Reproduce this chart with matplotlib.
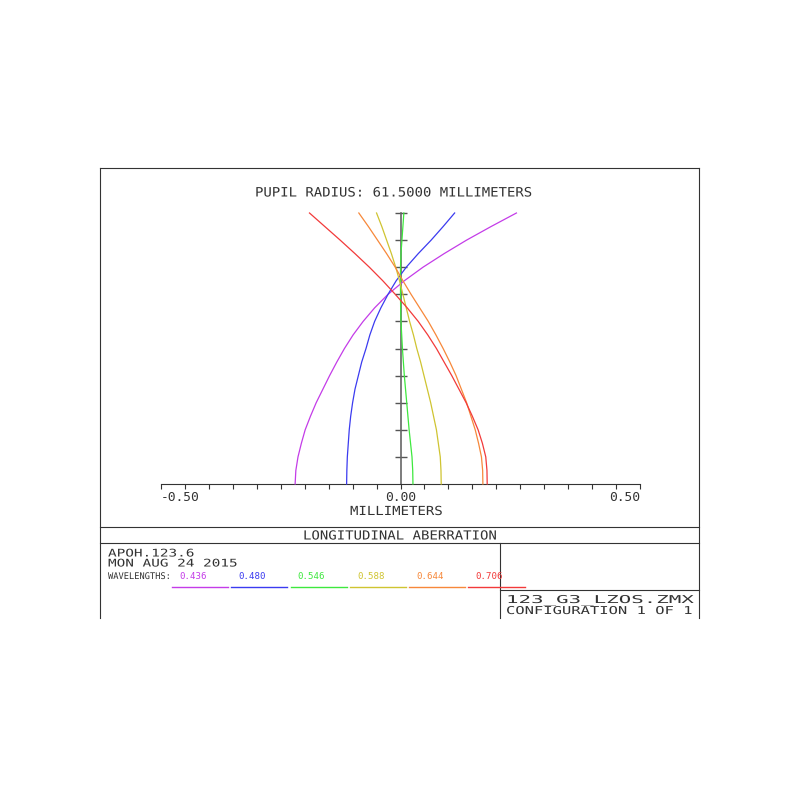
import matplotlib

matplotlib.use("Agg")
import matplotlib.patheffects as pe
import matplotlib.pyplot as plt
import numpy as np
from matplotlib.lines import Line2D
from matplotlib.transforms import Affine2D

# relative pupil height (0 = axis, 1 = edge of pupil)
PUPIL = [0.0, 0.05, 0.1, 0.15, 0.2, 0.25, 0.3, 0.35, 0.4, 0.45, 0.5,
         0.55, 0.6, 0.65, 0.7, 0.75, 0.8, 0.85, 0.9, 0.95, 1.0]

# longitudinal aberration in mm
AB_436 = [-0.220, -0.2185, -0.214, -0.207, -0.199, -0.188, -0.176, -0.162, -0.148, -0.133, -0.117,
          -0.099, -0.078, -0.054, -0.026, 0.008, 0.047, 0.091, 0.138, 0.189, 0.242]
AB_480 = [-0.1125, -0.112, -0.111, -0.109, -0.107, -0.104, -0.100, -0.095, -0.088, -0.081, -0.072,
          -0.064, -0.054, -0.041, -0.026, -0.009, 0.012, 0.037, 0.064, 0.089, 0.113]
AB_546 = [0.026, 0.0255, 0.024, 0.021, 0.018, 0.0155, 0.013, 0.0105, 0.008, 0.006, 0.004,
          0.0025, 0.001, 0.0003, 0.000, 0.000, 0.000, 0.001, 0.003, 0.005, 0.007]
AB_588 = [0.085, 0.0845, 0.083, 0.079, 0.075, 0.069, 0.063, 0.056, 0.049, 0.042, 0.034,
          0.027, 0.019, 0.012, 0.005, -0.002, -0.010, -0.019, -0.029, -0.039, -0.050]
AB_644 = [0.172, 0.1715, 0.169, 0.163, 0.156, 0.147, 0.138, 0.127, 0.116, 0.103, 0.089,
          0.074, 0.058, 0.040, 0.022, 0.005, -0.011, -0.029, -0.048, -0.067, -0.087]
AB_706 = [0.181, 0.1805, 0.178, 0.171, 0.162, 0.150, 0.137, 0.122, 0.107, 0.091, 0.075,
          0.057, 0.037, 0.014, -0.011, -0.037, -0.065, -0.095, -0.126, -0.158, -0.190]

WAVELENGTHS = ["0.436", "0.480", "0.546", "0.588", "0.644", "0.706"]
SERIES = [AB_436, AB_480, AB_546, AB_588, AB_644, AB_706]
COLORS = ["#c43ce8", "#3b3bf0", "#3ee83e", "#cfc431", "#f7883a", "#f23a3a"]

X_TICKS = np.linspace(-0.5, 0.5, 21)
X_LABELS = {-0.5: "-0.50", 0.0: "0.00", 0.5: "0.50"}
Y_TICKS = np.linspace(0.1, 1.0, 10)

FONT = "DejaVu Sans Mono"
INK = "#333333"
W = H = 800


class Stretch(pe.AbstractPathEffect):
    """Widen text horizontally, like the plotter font zemax uses."""

    def __init__(self, sx):
        super().__init__()
        self.sx = sx

    def draw_path(self, renderer, gc, tpath, affine, rgbFace=None):
        renderer.draw_path(gc, tpath, Affine2D().scale(self.sx, 1) + affine, rgbFace)


def fx(x):
    return x / W


def fy(y):
    return 1 - y / H


def hline(fig, x0, x1, y, color=INK, lw=0.8):
    fig.add_artist(Line2D([fx(x0), fx(x1)], [fy(y), fy(y)], transform=fig.transFigure,
                          color=color, lw=lw))


def vline(fig, x, y0, y1, color=INK, lw=0.8):
    fig.add_artist(Line2D([fx(x), fx(x)], [fy(y0), fy(y1)], transform=fig.transFigure,
                          color=color, lw=lw))


def text(fig, x, y, s, size, color=INK, sx=None):
    # left aligned on the baseline, so the stretch grows to the right
    t = fig.text(fx(x), fy(y), s, fontsize=size, family=FONT, color=color,
                 ha="left", va="baseline")
    if sx:
        t.set_path_effects([Stretch(sx)])
    return t


def main() -> None:
    fig = plt.figure(figsize=(8, 8), dpi=100)
    fig.patch.set_facecolor("white")

    # plot area: x -0.5..0.5 mm spans px 161..640, pupil 0..1 spans px 484..213
    ax = fig.add_axes([fx(161), fy(484), (640 - 161) / W, (484 - 213) / H])
    ax.set_xlim(-0.5, 0.5)
    ax.set_ylim(0, 1)
    ax.patch.set_alpha(0)

    for name in ("top", "right"):
        ax.spines[name].set_visible(False)
    ax.spines["bottom"].set_color(INK)
    ax.spines["bottom"].set_linewidth(0.8)
    ax.spines["left"].set_position(("data", 0))
    ax.spines["left"].set_color("#666666")
    ax.spines["left"].set_linewidth(1.2)

    ax.set_xticks(X_TICKS)
    ax.set_xticklabels([X_LABELS.get(round(v, 2), "") for v in X_TICKS])
    ax.tick_params(axis="x", direction="out", length=3.5, width=0.8, color=INK,
                   pad=1.5, labelsize=9.3, labelcolor=INK)
    for lab in ax.get_xticklabels():
        lab.set_family(FONT)
        if lab.get_text() == "-0.50":
            lab.set_ha("left")
            lab.set_x(-0.508)
        elif lab.get_text() == "0.50":
            lab.set_ha("right")
            lab.set_x(0.492)
    ax.set_yticks(Y_TICKS)
    ax.set_yticklabels([])
    ax.tick_params(axis="y", direction="inout", length=8.6, width=1.0, color="#555555")

    for values, color in zip(SERIES, COLORS):
        ax.plot(values, PUPIL, color=color, lw=0.9, clip_on=False, zorder=3)

    # frame and title block
    vline(fig, 100, 168, 618)
    vline(fig, 699, 168, 618)
    hline(fig, 100, 699, 168)
    hline(fig, 100, 699, 527)
    hline(fig, 100, 699, 543)
    vline(fig, 500, 543, 618)
    hline(fig, 500, 699, 590)

    text(fig, 255, 196.5, "PUPIL RADIUS: 61.5000 MILLIMETERS", 9.3, sx=1.08)
    text(fig, 350, 515, "MILLIMETERS", 9.0, sx=1.12)
    text(fig, 303, 539.5, "LONGITUDINAL ABERRATION", 9.0, sx=1.12)

    text(fig, 108, 556.5, "APOH.123.6", 7.6, sx=1.36)
    text(fig, 108, 566.5, "MON AUG 24 2015", 7.6, sx=1.36)
    text(fig, 108, 579, "WAVELENGTHS:", 6.6, sx=0.95)
    for i, (wl, color) in enumerate(zip(WAVELENGTHS, COLORS)):
        x0 = 172 + 59.3 * i
        text(fig, x0 + 7, 579, wl, 6.6, color=color)
        hline(fig, x0, x0 + 56, 587, color=color, lw=1.0)

    text(fig, 506, 603, "123_G3_LZOS.ZMX", 7.8, sx=1.92)
    text(fig, 506, 614, "CONFIGURATION 1 OF 1", 7.8, sx=1.43)

    fig.savefig("out.png", dpi=100, facecolor="white")
    plt.close(fig)


if __name__ == "__main__":
    main()
